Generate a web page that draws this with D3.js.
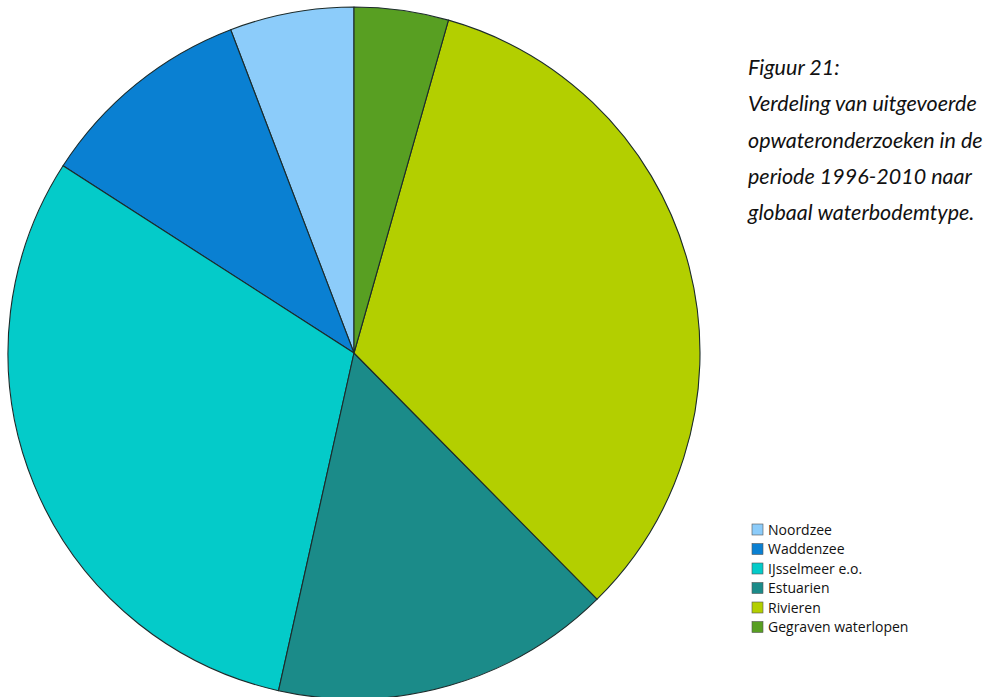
<!DOCTYPE html>
<html>
<head>
<meta charset="utf-8">
<script src="https://cdn.jsdelivr.net/npm/d3@7"></script>
<style>
  html, body { margin: 0; padding: 0; background: #ffffff; }
  svg { display: block; }
</style>
</head>
<body>
<svg id="chart" width="994" height="697"></svg>
<script>
// Waterbodemtypen in legend order (share of surveys, %)
const categories = ["Noordzee", "Waddenzee", "IJsselmeer e.o.", "Estuarien", "Rivieren", "Gegraven waterlopen"];
const shares = [5.8, 10.1, 30.6, 15.9, 33.2, 4.4];
const colors = ["#8cccfa", "#0a80d2", "#04cbc9", "#1b8b89", "#b3cf00", "#589f22"];

const captionLines = [
  "Figuur 21:",
  "Verdeling van uitgevoerde",
  "opwateronderzoeken in de",
  "periode 1996-2010 naar",
  "globaal waterbodemtype."
];

const svg = d3.select("#chart");

const cx = 354, cy = 353, radius = 346;

const data = categories.map((c, i) => ({ name: c, value: shares[i], color: colors[i] }));

// slices run counter-clockwise from 12 o'clock
const pie = d3.pie()
  .sort(null)
  .value(d => d.value)
  .startAngle(0)
  .endAngle(-2 * Math.PI);

const arc = d3.arc().innerRadius(0).outerRadius(radius);

svg.append("g")
  .attr("transform", `translate(${cx},${cy})`)
  .selectAll("path")
  .data(pie(data))
  .join("path")
  .attr("d", arc)
  .attr("fill", d => d.data.color)
  .attr("stroke", "#1c2b2b")
  .attr("stroke-width", 1.1)
  .attr("stroke-linejoin", "round");

// caption
const cap = svg.append("text")
  .attr("font-family", "Lato, 'Open Sans', sans-serif")
  .attr("font-style", "italic")
  .attr("font-weight", 400)
  .attr("font-size", 21.5)
  .attr("fill", "#111");
cap.selectAll("tspan")
  .data(captionLines)
  .join("tspan")
  .attr("x", 748)
  .attr("y", (d, i) => 75 + i * 36.3)
  .text(d => d);

// legend
const legend = svg.append("g")
  .attr("font-family", "'Open Sans', sans-serif")
  .attr("font-size", 14)
  .attr("fill", "#111");

const rows = legend.selectAll("g")
  .data(data)
  .join("g")
  .attr("transform", (d, i) => `translate(752,${530 + i * 19.5})`);

rows.append("rect")
  .attr("x", 0)
  .attr("y", -6)
  .attr("width", 11)
  .attr("height", 11)
  .attr("fill", d => d.color)
  .attr("stroke", "#555")
  .attr("stroke-width", 0.6);

rows.append("text")
  .attr("x", 16)
  .attr("y", 0)
  .attr("dy", "0.35em")
  .text(d => d.name);
</script>
</body>
</html>
